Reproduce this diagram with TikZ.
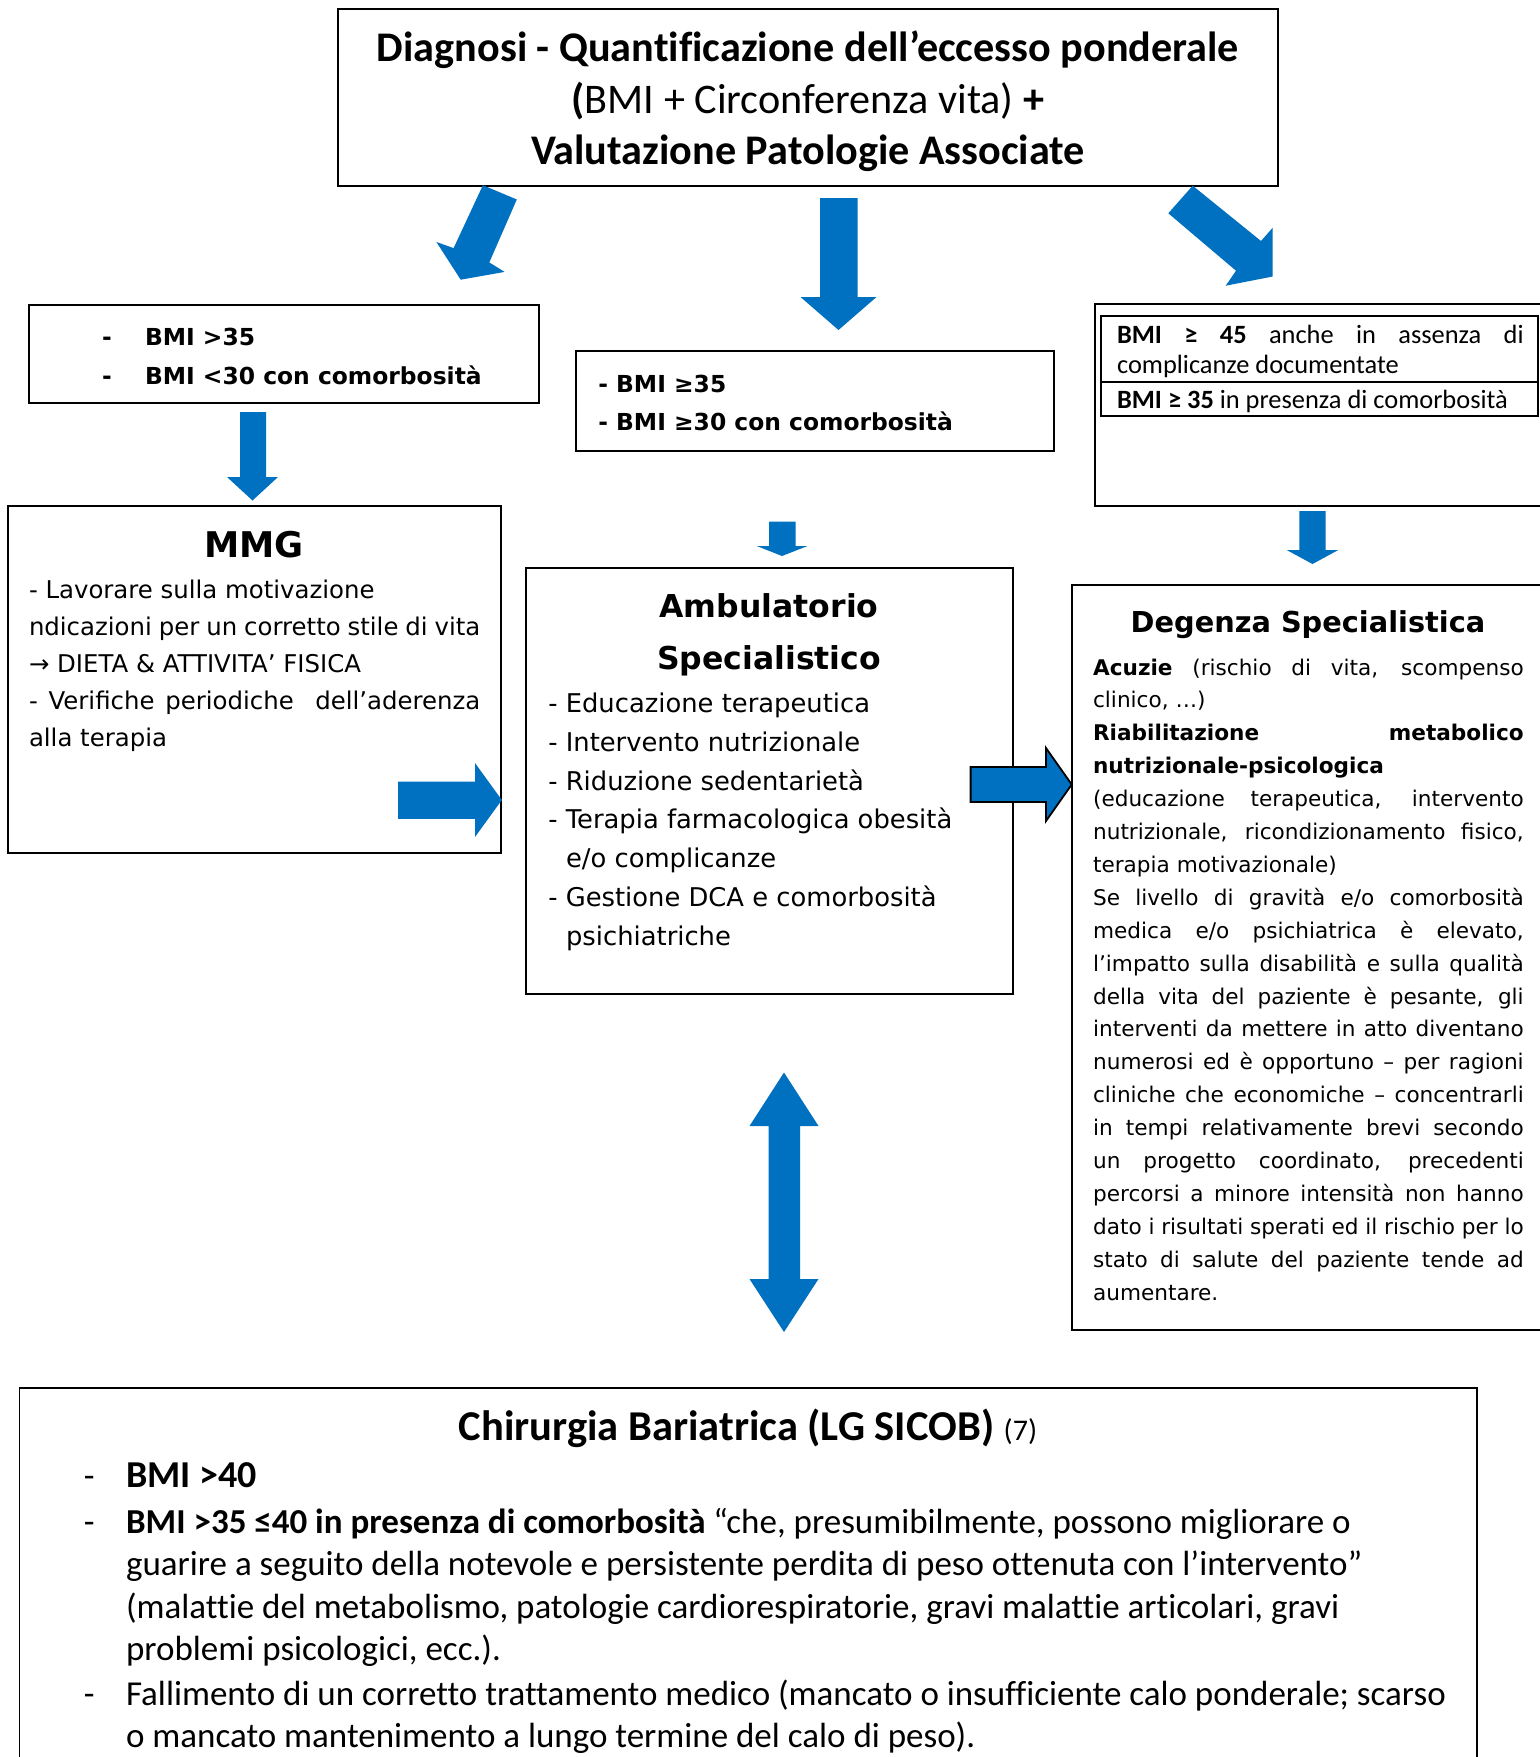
\documentclass[tikz,border=0pt]{standalone}
\usepackage{fontspec}
\setmainfont{Carlito}[Ligatures=NoCommon]
\newfontfamily\verd{DejaVu Sans}
\usetikzlibrary{fit}
\definecolor{ablue}{RGB}{0,112,192}
\newcommand\sk{\spaceskip=0pt\xspaceskip=0pt\relax}
\newcommand\J[1]{\makebox[\hsize][s]{#1}}
\newcommand\fz[2]{\fontsize{#1pt}{#2pt}\selectfont}
\newcommand\bl[1]{\leavevmode\llap{\makebox[#1][l]{-}}}
\begin{document}
\begin{tikzpicture}[x=0.5pt,y=-0.5pt,
  box/.style={draw=black, line width=0.8pt, inner sep=0pt},
  txt/.style={inner sep=0pt, anchor=base west, align=left},
  ctxt/.style={inner sep=0pt, anchor=base},
  barrow/.style={fill=ablue},
  barrowo/.style={fill=ablue, draw=black, line width=0.9pt, line join=miter}]
\useasboundingbox (0,0) rectangle (1540,1757);
\clip (0,0) rectangle (1540,1757);
\fill[white] (0,0) rectangle (1540,1757);

% ---------- boxes ----------
\coordinate (t1) at (338,9); \coordinate (t2) at (1278,186);
\node[box, fit=(t1)(t2)] (top) {};
\coordinate (l1) at (29,305); \coordinate (l2) at (539,403);
\node[box, fit=(l1)(l2)] (bmiL) {};
\coordinate (m1) at (576,351); \coordinate (m2) at (1054,451);
\node[box, fit=(m1)(m2)] (bmiM) {};
\coordinate (r1) at (1095,304); \coordinate (r2) at (1570,506);
\node[box, fit=(r1)(r2)] (bmiR) {};
\coordinate (q1) at (1100.7,315.7); \coordinate (q2) at (1537.7,416);
\node[box, fit=(q1)(q2)] (tab) {};
\coordinate (qd) at (0,381.7);
\draw[line width=0.8pt] (tab.west |- qd) -- (tab.east |- qd);
\coordinate (g1) at (8,506); \coordinate (g2) at (501,853);
\node[box, fit=(g1)(g2)] (mmg) {};
\coordinate (a1) at (526,568); \coordinate (a2) at (1013,994);
\node[box, fit=(a1)(a2)] (amb) {};
\coordinate (d1) at (1072,585); \coordinate (d2) at (1570,1330);
\node[box, fit=(d1)(d2)] (deg) {};
\coordinate (c1) at (19.5,1388); \coordinate (c2) at (1477,1790);
\node[box, fit=(c1)(c2)] (chir) {};

% ---------- block arrows ----------
\fill[barrow] (482.9,185.2) -- (516.8,199.5) -- (489.3,262.4) -- (504.6,271.9)
  -- (460.7,279.7) -- (436.4,242.0) -- (453.6,248.1) -- cycle;
\fill[barrow] (820,198) -- (857.5,198) -- (857.5,297) -- (876.5,297)
  -- (838.5,330) -- (800.5,297) -- (820,297) -- cycle;
\fill[barrow] (1192.7,185.7) -- (1261,241) -- (1272.7,227.7) -- (1272.7,276.5)
  -- (1225.7,285.7) -- (1236,270.7) -- (1168.3,213.3) -- cycle;
\fill[barrow] (240,412) -- (266,412) -- (266,477) -- (278,477)
  -- (252.5,500.5) -- (227,477) -- (240,477) -- cycle;
\fill[barrow] (769,521.5) -- (795.7,521.5) -- (795.7,546) -- (807.5,546)
  -- (782,556) -- (756.8,546) -- (769,546) -- cycle;
\fill[barrow] (1299.3,511) -- (1325.7,511) -- (1325.7,550) -- (1338.3,550)
  -- (1312.5,564) -- (1286.7,550) -- (1299.3,550) -- cycle;
\fill[barrow] (398,781.5) -- (475,781.5) -- (475,763) -- (501.8,800)
  -- (475,837) -- (475,818.8) -- (398,818.8) -- cycle;
\filldraw[barrowo] (970.6,767) -- (1046,767) -- (1046,748) -- (1071.7,784.5)
  -- (1046,821) -- (1046,802) -- (970.6,802) -- cycle;
\fill[barrow] (784,1072.5) -- (818.5,1126) -- (800,1126) -- (800,1279)
  -- (818.5,1279) -- (784,1332) -- (749.5,1279) -- (768.5,1279)
  -- (768.5,1126) -- (749.5,1126) -- cycle;

% ---------- texts ----------
\node[ctxt, text width=470pt, font=\fz{21.1}{25.75}] (topT) at (808,61.5)
  {\centering\sk\bfseries Diagnosi - Quantificazione dell’eccesso ponderale\\
   {\bfseries(}\mdseries BMI + Circonferenza vita){\bfseries\ +}\\
   \bfseries Valutazione Patologie Associate\par};

\node[txt, text width=230pt, font=\verd\bfseries\fz{11.7}{19.5}] (bmiLT) at (144.6,345.5)
  {\sk\bl{21.4pt}BMI >35\\
   \bl{21.4pt}BMI <30 con comorbosità};

\node[txt, text width=230pt, font=\verd\bfseries\fz{11.7}{19.05}] (bmiMT) at (597.9,392.3)
  {\sk - BMI ≥35\\- BMI ≥30 con comorbosità};

\node[txt, text width=203.3pt, font=\fz{13.2}{14.75}] (tabT1) at (1116.7,343.5)
  {\sk\J{\textbf{BMI ≥ 45} anche in assenza di}\\complicanze documentate};
\node[txt, text width=210pt, font=\fz{13.2}{14.75}] (tabT2) at (1116.7,408.5)
  {\sk\textbf{BMI ≥ 35} in presenza di comorbosità};

\node[ctxt, font=\verd\bfseries\fz{17.7}{20}] (mmgH) at (254,557.5) {MMG};
\node[txt, text width=225.7pt, font=\verd\fz{12.2}{18.6}] (mmgT) at (28.6,598)
  {\sk - Lavorare sulla motivazione\\
   \J{ndicazioni per un corretto stile di vita}\\
   → DIETA \& ATTIVITA’ FISICA\\
   \J{- Verifiche periodiche\ \ dell’aderenza}\\
   alla terapia};

\node[ctxt, text width=240pt, font=\verd\bfseries\fz{15.75}{26}] (ambH) at (769,617.5)
  {\centering\sk Ambulatorio\\Specialistico\par};
\node[txt, text width=232pt, font=\verd\fz{12.9}{19.4}] (ambT) at (547.9,712.5)
  {\sk - Educazione terapeutica\\
   - Intervento nutrizionale\\
   - Riduzione sedentarietà\\
   - Terapia farmacologica obesità\\
   \hspace*{8.9pt}e/o complicanze\\
   - Gestione DCA e comorbosità\\
   \hspace*{8.9pt}psichiatriche};

\node[ctxt, font=\verd\bfseries\fz{14.4}{16}] (degH) at (1308,632.5) {Degenza Specialistica};
\node[txt, text width=215.3pt, font=\verd\fz{10.8}{16.45}] (degT) at (1092.7,675)
  {\sk\J{\textbf{Acuzie} (rischio di vita, scompenso}\\
   clinico, …)\\
   \J{\textbf{Riabilitazione metabolico}}\\
   \textbf{nutrizionale-psicologica}\\
   \J{(educazione terapeutica, intervento}\\
   \J{nutrizionale, ricondizionamento fisico,}\\
   terapia motivazionale)\\
   \J{Se livello di gravità e/o comorbosità}\\
   \J{medica e/o psichiatrica è elevato,}\\
   \J{l’impatto sulla disabilità e sulla qualità}\\
   \J{della vita del paziente è pesante, gli}\\
   \J{interventi da mettere in atto diventano}\\
   \J{numerosi ed è opportuno – per ragioni}\\
   \J{cliniche che economiche – concentrarli}\\
   \J{in tempi relativamente brevi secondo}\\
   \J{un progetto coordinato, precedenti}\\
   \J{percorsi a minore intensità non hanno}\\
   \J{dato i risultati sperati ed il rischio per lo}\\
   \J{stato di salute del paziente tende ad}\\
   aumentare.};

\node[ctxt, font=\fz{21.25}{25}] (chirH) at (748,1440)
  {\sk\bfseries Chirurgia Bariatrica (LG SICOB) {\mdseries\fz{15}{18}(7)}};
\node[txt, text width=690pt, font=\fz{17.5}{21.25}] (chirT) at (125.7,1487)
  {\sk\bl{21.1pt}{\fz{19}{21.25}\bfseries BMI >40}\\[1.75pt]
   \bl{21.1pt}\textbf{BMI >35 ≤40 in presenza di comorbosità} “che, presumibilmente, possono migliorare o\\
   guarire a seguito della notevole e persistente perdita di peso ottenuta con l’intervento”\\
   (malattie del metabolismo, patologie cardiorespiratorie, gravi malattie articolari, gravi\\
   problemi psicologici, ecc.).\\[1.1pt]
   \bl{21.1pt}Fallimento di un corretto trattamento medico (mancato o insufficiente calo ponderale; scarso\\
   o mancato mantenimento a lungo termine del calo di peso).};
\end{tikzpicture}
\end{document}
